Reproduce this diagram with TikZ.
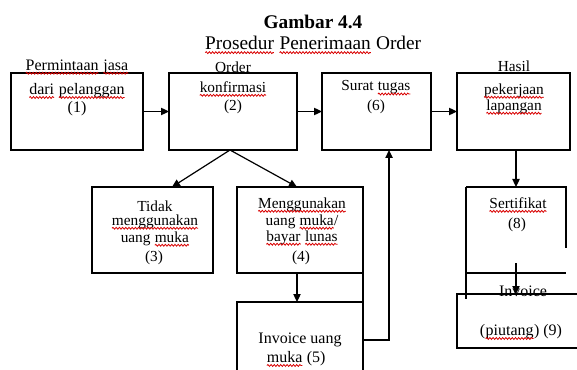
\documentclass[tikz,border=0pt]{standalone}
\usepackage{fontspec}
\setmainfont{Liberation Serif}
\usetikzlibrary{arrows.meta,decorations.pathmorphing}
\newcommand\sq[1]{\tikz[baseline=(w.base)]{\node[inner sep=0pt,outer sep=0pt,draw=none,anchor=base](w){#1};\draw[red!85!black,line width=0.6pt,decorate,decoration={snake,amplitude=0.7pt,segment length=2.4pt}]([yshift=-2.4pt]w.base west)--([yshift=-2.4pt]w.base east);}}
\tikzset{
  bx/.style={draw, line width=1.1pt, inner sep=0pt, outer sep=0pt, rectangle},
  ghost/.style={inner sep=0pt, outer sep=0pt, rectangle},
  txt/.style={inner sep=0pt, font=\fontsize{11.5}{13}\selectfont},
  txtb/.style={inner sep=0pt, font=\fontsize{12}{14}\selectfont},
  arr/.style={line width=0.9pt, -{Triangle[length=6pt,width=5.5pt]}},
  ln/.style={line width=1.1pt}
}
\begin{document}
\begin{tikzpicture}[x=0.75pt,y=-0.75pt]
\path[use as bounding box, clip] (0,0) rectangle (577,370);
\fill[white] (0,0) rectangle (577,370);
% title
\node[inner sep=0pt, font=\fontsize{14.5}{17}\selectfont\bfseries] (t1) at (313,22) {Gambar 4.4};
\node[inner sep=0pt, font=\fontsize{14.5}{17}\selectfont] (t2) at (313,45) {\sq{Prosedur} \sq{Penerimaan} Order};
% boxes
\node[bx, minimum width=99pt, minimum height=57.75pt] (b1) at (77,111.5) {};
\node[bx, minimum width=96pt, minimum height=57.75pt] (b2) at (233,111.5) {};
\node[bx, minimum width=81.75pt, minimum height=57.75pt] (b3) at (376.5,111.5) {};
\node[bx, minimum width=84.75pt, minimum height=57.75pt] (b4) at (513.5,111.5) {};
\node[bx, minimum width=90.75pt, minimum height=64.5pt] (bt) at (152.5,230) {};
\node[bx, minimum width=94.5pt, minimum height=64.5pt] (bm) at (300,230) {};
\node[bx, minimum width=94.5pt, minimum height=73.5pt] (b5) at (300,351) {};
\node[ghost, minimum width=75pt, minimum height=64.5pt] (s8) at (516,230) {};
\node[bx, minimum width=107.25pt, minimum height=40.5pt] (b9) at (528.5,321) {};
% partial outline of Sertifikat box
\draw[ln] (s8.north west) -- (s8.north east) -- ++(0,61);
\draw[ln] (s8.north west) -- ++(0,112);
\draw[ln] (s8.south west) -- (s8.south east);
\draw[ln] (bm.south east) -- (b5.north east);
% texts
\node[txtb] (l1a) at (77,67) {\sq{Permintaan} \sq{jasa}};
\node[txtb] (l1b) at (77,91) {\sq{dari} \sq{pelanggan}};
\node[txtb] (l1c) at (77,109) {(1)};
\node[txt] (l2a) at (233,67) {Order};
\node[txt] (l2b) at (233,89) {\sq{konfirmasi}};
\node[txt] (l2c) at (233,107) {(2)};
\node[txt] (l6a) at (376,88) {Surat \sq{tugas}};
\node[txt] (l6b) at (376,107) {(6)};
\node[txt] (l7a) at (514,66) {Hasil};
\node[txt] (l7b) at (514,91) {\sq{pekerjaan}};
\node[txt] (l7c) at (514,107) {\sq{lapangan}};
\node[txt] (l3a) at (155,206) {Tidak};
\node[txt] (l3b) at (155,222) {\sq{menggunakan}};
\node[txt] (l3c) at (155,239) {uang \sq{muka}};
\node[txt] (l3d) at (154,258) {(3)};
\node[txt] (l4a) at (302,205) {\sq{Menggunakan}};
\node[txt] (l4b) at (302,222) {uang \sq{muka}/};
\node[txt] (l4c) at (302,238) {\sq{bayar} \sq{lunas}};
\node[txt] (l4d) at (301,258) {(4)};
\node[txtb] (l5a) at (300,340) {Invoice uang};
\node[txtb] (l5b) at (296,359) {\sq{muka} (5)};
\node[txt] (l8a) at (518,205) {\sq{Sertifikat}};
\node[txt] (l8b) at (517,225) {(8)};
\node[txtb] (l9a) at (523,291) {Invoice};
\node[txtb] (l9b) at (521,332) {(\sq{piutang}) (9)};
% connectors
\draw[arr] (b1.east) -- (b2.west);
\draw[arr] (b2.east) -- (b3.west);
\draw[arr] (b3.east) -- (b4.west);
\draw[arr] ([xshift=-2.25pt]b2.south) -- ([xshift=14.6pt]bt.north);
\draw[arr] ([xshift=-2.25pt]b2.south) -- ([xshift=-2.25pt]bm.north);
\draw[arr] ([xshift=-2.25pt]bm.south) -- ([xshift=-2.25pt]b5.north);
\draw[arr] ([yshift=8.25pt]b5.east) -| ([xshift=9.4pt]b3.south);
\draw[arr] (s8.north |- b4.south) -- (s8.north);
\draw[arr] ([yshift=7.5pt]s8.south) -- (s8.south |- b9.north);
\end{tikzpicture}
\end{document}
